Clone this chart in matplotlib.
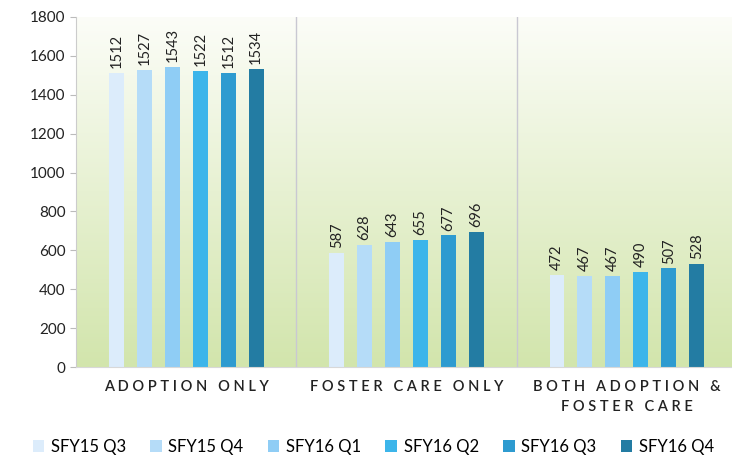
import numpy as np
import matplotlib.pyplot as plt

# data
categories = ["A D O P T I O N   O N L Y",
              "F O S T E R   C A R E   O N L Y",
              "B O T H   A D O P T I O N   &\nF O S T E R   C A R E"]
quarters = ["SFY15 Q3", "SFY15 Q4", "SFY16 Q1", "SFY16 Q2", "SFY16 Q3", "SFY16 Q4"]
adoption_only = [1512, 1527, 1543, 1522, 1512, 1534]
foster_only = [587, 628, 643, 655, 677, 696]
both = [472, 467, 467, 490, 507, 528]
colors = ["#dcecfb", "#b5dcf8", "#8fcdf5", "#3cb5ea", "#2e9bd0", "#237ca3"]

values = np.array([adoption_only, foster_only, both])

plt.rcParams['font.family'] = ['Lato', 'DejaVu Sans']

fig = plt.figure(figsize=(7.32, 4.70), dpi=100)
ax = fig.add_axes([0.104, 0.219, 0.903, 0.745])

# gradient background, white on top, light green at bottom
top = np.array([252, 253, 248]) / 255
bot = np.array([210, 229, 172]) / 255
t = np.linspace(0, 1, 256)[:, None]
grad = top * (1 - t) + bot * t
ax.imshow(grad[:, None, :], extent=[0, 1, 0, 1], transform=ax.transAxes,
          aspect='auto', zorder=0)

x = np.arange(len(categories))
step = 0.127
width = 0.068
for i, q in enumerate(quarters):
    pos = x + (i - 2.5) * step
    ax.bar(pos, values[:, i], width, color=colors[i], label=q, zorder=2)
    for px, v in zip(pos, values[:, i]):
        ax.text(px, v + 25, str(v), rotation=90, ha='center', va='bottom',
                fontsize=10.5, color='#222222', zorder=3)

ax.set_xlim(-0.5, 2.5)
ax.set_ylim(0, 1800)
ax.set_yticks(range(0, 1801, 200))
ax.tick_params(axis='y', labelsize=11, length=4, color='#bbbbbb', labelcolor='#222222')
ax.set_xticks(x)
ax.set_xticklabels(categories, fontsize=10.5, color='#222222', fontweight='semibold',
                   linespacing=1.6)
ax.tick_params(axis='x', length=0, pad=9)

for b in [0.5, 1.5]:
    ax.axvline(b, color='#c9c8d2', lw=1, zorder=1)

for s in ['top', 'right']:
    ax.spines[s].set_visible(False)
ax.spines['left'].set_color('#cccccc')
ax.spines['bottom'].set_color('#d8d8d8')

leg = fig.legend(loc='lower center', bbox_to_anchor=(0.51, 0.0), ncol=6,
                 frameon=False, fontsize=12, handlelength=0.7, handleheight=0.7,
                 handletextpad=0.4, columnspacing=1.45)

fig.savefig("out.png", dpi=100)
